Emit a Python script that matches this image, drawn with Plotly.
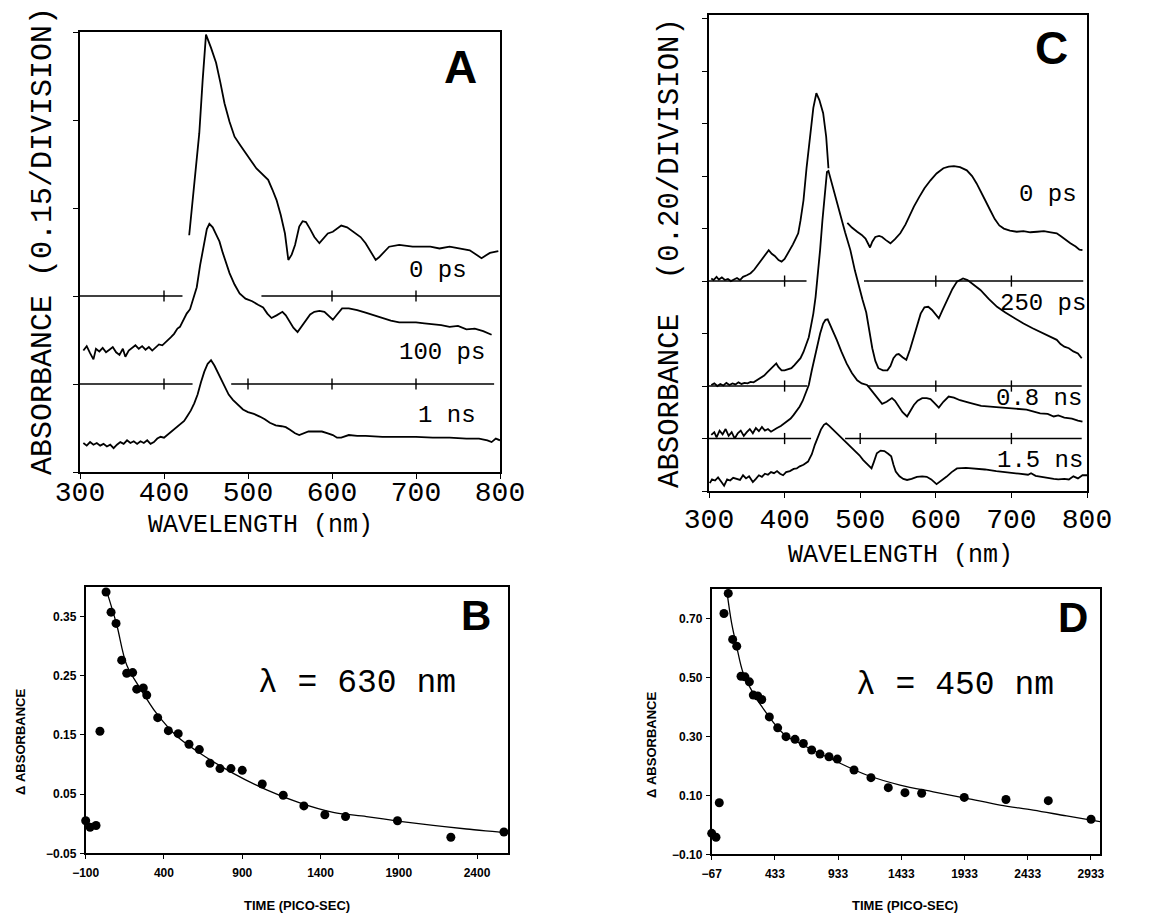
import plotly.graph_objects as go

W, H = 1171, 923
OFF = 8  # page body margin of the browser; positions below are in screenshot pixels

# ---------------- DATA ----------------
# Panel A spectra: (wavelength nm, absorbance in divisions of 0.15, offset-stacked)
A_0PS = [(430,2.69),(434,3.09),(438,3.48),(442,3.85),(446,4.45),(450,4.97),(456,4.82),(462,4.65),(467,4.43),
         (472,4.19),(478,3.98),(484,3.81),(491,3.71),(498,3.62),(504,3.53),(510,3.45),(517,3.38),(524,3.32),
         (529,3.21),(534,3.09),(539,2.92),(544,2.71),(548,2.41),(552,2.47),(556,2.58),(561,2.79),(565,2.85),
         (569,2.84),(574,2.76),(579,2.67),(585,2.60),(590,2.65),(595,2.71),(601,2.73),(606,2.76),(611,2.80),
         (618,2.78),(625,2.73),(634,2.67),(640,2.60),(645,2.52),(652,2.41),(656,2.44),(668,2.56),(680,2.58),
         (696,2.56),(717,2.56),(728,2.54),(740,2.56),(752,2.54),(764,2.52),(778,2.43),(788,2.49),(798,2.51)]
A_100PS = [(304,1.38),(308,1.43),(312,1.35),(316,1.28),(319,1.40),(323,1.37),(327,1.41),(331,1.36),(335,1.39),
           (339,1.42),(343,1.36),(347,1.33),(351,1.40),(354,1.31),(358,1.38),(362,1.41),(366,1.44),(370,1.40),
           (374,1.43),(378,1.39),(382,1.42),(386,1.38),(390,1.42),(394,1.45),(398,1.44),(403,1.48),(408,1.53),
           (412,1.57),(416,1.63),(419,1.65),(423,1.72),(427,1.80),(431,1.85),(435,1.97),(439,2.10),(443,2.35),
           (447,2.58),(451,2.76),(454,2.82),(458,2.78),(462,2.70),(466,2.62),(470,2.49),(474,2.37),(478,2.26),
           (484,2.13),(490,2.03),(497,1.97),(505,1.94),(512,1.90),(518,1.87),(523,1.80),(528,1.75),(534,1.78),
           (541,1.82),(545,1.78),(549,1.72),(554,1.64),(559,1.59),(564,1.66),(569,1.73),(574,1.79),(579,1.82),
           (585,1.83),(591,1.82),(596,1.77),(601,1.73),(606,1.79),(612,1.86),(620,1.86),(630,1.84),(640,1.81),
           (650,1.78),(660,1.75),(670,1.72),(680,1.70),(690,1.70),(700,1.70),(710,1.69),(720,1.68),(730,1.67),
           (740,1.65),(750,1.66),(760,1.62),(770,1.63),(780,1.60),(790,1.56)]
A_1NS = [(304,0.33),(308,0.30),(312,0.34),(316,0.31),(320,0.33),(324,0.30),(328,0.32),(332,0.29),(336,0.31),
         (340,0.27),(344,0.31),(348,0.34),(352,0.32),(356,0.36),(360,0.33),(364,0.35),(368,0.32),(372,0.35),
         (376,0.33),(380,0.36),(384,0.32),(388,0.34),(392,0.38),(396,0.40),(400,0.39),(404,0.42),(408,0.45),
         (412,0.48),(416,0.52),(420,0.55),(424,0.58),(428,0.64),(432,0.70),(436,0.78),(440,0.88),(444,1.02),
         (448,1.14),(452,1.23),(456,1.27),(460,1.21),(464,1.13),(468,1.05),(472,0.97),(477,0.88),(482,0.82),
         (488,0.76),(494,0.71),(500,0.68),(507,0.66),(514,0.63),(520,0.60),(526,0.56),(533,0.53),(540,0.52),
         (545,0.51),(550,0.48),(556,0.44),(561,0.42),(566,0.44),(572,0.46),(580,0.46),(588,0.46),(595,0.44),
         (601,0.42),(606,0.39),(611,0.39),(620,0.42),(630,0.41),(640,0.41),(660,0.40),(680,0.40),(700,0.40),
         (720,0.39),(740,0.39),(760,0.38),(775,0.38),(785,0.36),(790,0.34),(795,0.38),(800,0.36)]

# Panel C spectra (divisions of 0.20); None = gap in the trace
C_0PS = [(303,4.05),(306,4.02),(310,4.08),(313,4.03),(317,4.07),(321,4.02),(325,4.04),(329,4.00),(333,4.03),
         (337,4.06),(341,4.02),(345,4.08),(350,4.11),(355,4.15),(360,4.22),(365,4.32),(370,4.42),(375,4.52),
         (379,4.59),(383,4.52),(387,4.48),(392,4.40),(396,4.37),(400,4.42),(404,4.52),(407,4.59),(411,4.70),
         (415,4.82),(418,4.91),(421,5.15),(425,5.54),(429,6.15),(434,6.81),(438,7.30),(442,7.58),(446,7.45),
         (451,7.20),(455,6.75),(458,6.15), None,
         (483,5.11),(489,5.02),(496,4.94),(502,4.88),(507,4.81),(510,4.72),(513,4.64),(516,4.75),(520,4.84),
         (525,4.86),(529,4.84),(534,4.78),(540,4.72),(546,4.80),(553,4.91),(560,5.08),(566,5.28),(571,5.42),
         (578,5.60),(585,5.77),(593,5.92),(601,6.05),(610,6.15),(617,6.18),(624,6.19),(632,6.17),(641,6.11),
         (648,6.00),(654,5.86),(659,5.73),(665,5.55),(672,5.35),(678,5.18),(684,5.06),(690,5.00),(698,4.96),
         (707,4.94),(716,4.95),(725,4.93),(734,4.94),(743,4.95),(752,4.93),(760,4.91),(766,4.85),(772,4.78),
         (778,4.72),(785,4.66),(790,4.60),(794,4.59)]
C_250PS = [(303,2.02),(307,2.05),(311,2.00),(315,2.04),(319,2.01),(323,2.06),(327,2.02),(331,2.05),(335,2.03),
           (339,2.07),(343,2.04),(347,2.06),(351,2.05),(355,2.08),(359,2.07),(363,2.11),(368,2.15),(373,2.20),
           (377,2.26),(381,2.32),(385,2.38),(389,2.43),(392,2.36),(396,2.30),(400,2.30),(405,2.32),(409,2.34),
           (413,2.40),(417,2.46),(421,2.53),(425,2.65),(429,2.80),(432,2.93),(435,3.15),(438,3.38),(441,3.70),
           (444,4.10),(447,4.60),(450,5.15),(453,5.65),(456,6.08),(458,6.10),(461,5.95),(465,5.75),(469,5.54),
           (474,5.25),(480,4.93),(487,4.59),(493,4.20),(498,3.90),(503,3.65),(508,3.40),(512,3.05),(516,2.72),
           (520,2.48),(524,2.34),(530,2.30),(536,2.30),(540,2.38),(544,2.53),(548,2.60),(551,2.61),(556,2.55),
           (561,2.50),(566,2.70),(571,2.94),(575,3.18),(580,3.38),(585,3.50),(590,3.51),(595,3.45),(600,3.36),
           (604,3.29),(609,3.45),(615,3.64),(622,3.85),(628,3.99),(636,4.05),(642,4.02),(650,3.93),(659,3.83),
           (670,3.66),(681,3.51),(692,3.40),(704,3.29),(716,3.19),(728,3.10),(740,3.02),(752,2.94),(760,2.88),
           (765,2.80),(770,2.75),(776,2.72),(782,2.66),(788,2.62),(793,2.53)]
C_08NS = [(303,1.07),(307,1.12),(310,1.02),(314,1.15),(318,1.08),(322,1.18),(326,1.05),(330,1.12),(334,1.00),
          (338,1.10),(342,1.15),(346,1.05),(350,1.12),(354,1.18),(358,1.10),(362,1.20),(366,1.14),(370,1.22),
          (374,1.15),(378,1.18),(382,1.13),(385,1.16),(390,1.20),(395,1.24),(400,1.29),(404,1.33),(408,1.38),
          (412,1.45),(416,1.52),(420,1.61),(424,1.72),(428,1.86),(432,2.02),(436,2.30),(440,2.58),(443,2.75),
          (447,3.00),(451,3.19),(454,3.26),(457,3.27),(460,3.18),(464,3.05),(469,2.88),(475,2.66),(482,2.43),
          (489,2.25),(496,2.11),(502,2.05),(509,2.02),(513,1.95),(518,1.86),(523,1.76),(529,1.66),(535,1.70),
          (542,1.77),(546,1.72),(551,1.61),(556,1.50),(562,1.42),(566,1.52),(571,1.64),(576,1.72),(582,1.77),
          (588,1.77),(593,1.75),(598,1.68),(604,1.59),(610,1.70),(617,1.80),(624,1.78),(632,1.73),(645,1.68),
          (660,1.62),(680,1.60),(700,1.58),(720,1.55),(738,1.48),(748,1.47),(756,1.42),(762,1.44),(770,1.40),
          (780,1.38),(788,1.34),(794,1.32)]
C_15NS = [(301,0.15),(304,0.22),(308,0.20),(312,0.26),(316,0.18),(320,0.10),(324,0.22),(328,0.20),(332,0.25),
          (336,0.23),(341,0.21),(345,0.30),(349,0.24),(353,0.28),(358,0.17),(362,0.23),(366,0.30),(370,0.27),
          (374,0.33),(378,0.31),(382,0.36),(386,0.34),(390,0.38),(394,0.33),(398,0.30),(402,0.36),(407,0.38),
          (412,0.42),(416,0.43),(420,0.47),(425,0.50),(431,0.56),(436,0.70),(440,0.88),(444,1.04),(448,1.17),
          (452,1.26),(455,1.29),(459,1.24),(464,1.17),(469,1.10),(475,1.01),(481,0.93),(487,0.84),(493,0.76),
          (499,0.68),(504,0.59),(510,0.50),(515,0.43),(518,0.55),(522,0.72),(527,0.77),(532,0.76),(537,0.71),
          (541,0.66),(544,0.50),(547,0.37),(552,0.28),(557,0.23),(562,0.21),(568,0.23),(575,0.27),(582,0.28),
          (588,0.27),(594,0.22),(601,0.13),(607,0.19),(614,0.27),(621,0.36),(628,0.43),(640,0.44),(650,0.43),
          (665,0.41),(680,0.38),(694,0.35),(710,0.33),(722,0.31),(726,0.34),(732,0.29),(738,0.27),(748,0.25),
          (756,0.23),(762,0.22),(770,0.23),(776,0.22),(782,0.28),(788,0.24),(794,0.30),(800,0.30)]

# Zero lines of the offset spectra: (level, segments, tick positions)
BASE_A = [(2, [(300, 422), (516, 800)], [400, 600, 700]),
          (1, [(300, 434), (480, 793)], [400, 500, 600, 700])]
BASE_C = [(4, [(300, 429), (505, 795)], [400, 600, 700]),
          (2, [(300, 430), (510, 793)], [400, 600, 700]),
          (1, [(300, 435), (480, 793)], [400, 500, 600, 700])]

# Panel B kinetics at 630 nm
B_T = [-100, -72, -34, -9, 30, 62, 94, 130, 162, 200, 226, 268, 290, 360, 428, 491, 560, 626, 694, 758,
       828, 900, 1028, 1162, 1294, 1428, 1560, 1892, 2233, 2572]
B_A = [0.005, -0.006, -0.003, 0.156, 0.391, 0.357, 0.338, 0.276, 0.254, 0.255, 0.227, 0.229, 0.217, 0.179,
       0.157, 0.152, 0.134, 0.125, 0.102, 0.093, 0.093, 0.090, 0.067, 0.048, 0.030, 0.015, 0.012, 0.005,
       -0.023, -0.014]
B_FIT_T = [30, 97, 162, 247, 353, 481, 630, 843, 1056, 1268, 1481, 1694, 1907, 2120, 2333, 2572, 2600]
B_FIT_A = [0.396, 0.337, 0.268, 0.229, 0.186, 0.148, 0.119, 0.085, 0.057, 0.035, 0.019, 0.012, 0.004,
           -0.003, -0.009, -0.015, -0.016]

# Panel D kinetics at 450 nm
D_T = [-67, -33, -7, 30, 64, 99, 131, 165, 196, 231, 262, 297, 329, 389, 455, 521, 592, 658, 724, 790,
       861, 927, 1059, 1193, 1330, 1462, 1594, 1931, 2261, 2596, 2934]
D_A = [-0.029, -0.042, 0.075, 0.717, 0.785, 0.629, 0.606, 0.504, 0.502, 0.485, 0.440, 0.437, 0.425, 0.366,
       0.329, 0.299, 0.290, 0.276, 0.254, 0.240, 0.231, 0.223, 0.186, 0.160, 0.126, 0.109, 0.107, 0.093,
       0.086, 0.082, 0.019]
D_FIT_T = [52, 91, 131, 183, 262, 368, 499, 632, 895, 1159, 1423, 1686, 1950, 2214, 2477, 2741, 3005]
D_FIT_A = [0.796, 0.683, 0.604, 0.514, 0.446, 0.378, 0.310, 0.276, 0.220, 0.169, 0.135, 0.112, 0.090,
           0.067, 0.050, 0.030, 0.011]

WL_TICKS = [300, 400, 500, 600, 700, 800]
B_TICKS = [-100, 400, 900, 1400, 1900, 2400]
B_YTICKS = [-0.05, 0.05, 0.15, 0.25, 0.35]
D_TICKS = [-67, 433, 933, 1433, 1933, 2433, 2933]
D_YTICKS = [-0.10, 0.10, 0.30, 0.50, 0.70]

# ---------------- FIGURE ----------------
MONO = "Liberation Mono, Courier New, monospace"
SANS = "Liberation Sans, Arial, sans-serif"
LW = 1.8

fig = go.Figure()


def unzip(pairs):
    xs, ys = [], []
    for p in pairs:
        if p is None:
            xs.append(None); ys.append(None)
        else:
            xs.append(p[0]); ys.append(p[1])
    return xs, ys


def spectrum(pairs, xa, ya):
    xs, ys = unzip(pairs)
    fig.add_trace(go.Scatter(x=xs, y=ys, mode="lines", xaxis=xa, yaxis=ya,
                             line=dict(color="black", width=LW), showlegend=False,
                             connectgaps=False, hoverinfo="skip"))


def baselines(spec, xa, ya):
    for level, segs, ticks in spec:
        xs, ys = [], []
        for a, b in segs:
            xs += [a, b, None]; ys += [level, level, None]
        fig.add_trace(go.Scatter(x=xs, y=ys, mode="lines", xaxis=xa, yaxis=ya,
                                 line=dict(color="black", width=1.5), showlegend=False,
                                 hoverinfo="skip"))
        fig.add_trace(go.Scatter(x=ticks, y=[level] * len(ticks), mode="markers", xaxis=xa, yaxis=ya,
                                 marker=dict(symbol="line-ns", size=8, line=dict(color="black", width=1.4)),
                                 showlegend=False, hoverinfo="skip"))


for s in (A_0PS, A_100PS, A_1NS):
    spectrum(s, "x", "y")
baselines(BASE_A, "x", "y")
for s in (C_0PS, C_250PS, C_08NS, C_15NS):
    spectrum(s, "x2", "y2")
baselines(BASE_C, "x2", "y2")

for t, a, ft, fa, xa, ya in ((B_T, B_A, B_FIT_T, B_FIT_A, "x3", "y3"),
                             (D_T, D_A, D_FIT_T, D_FIT_A, "x4", "y4")):
    fig.add_trace(go.Scatter(x=ft, y=fa, mode="lines", line=dict(color="black", width=1.3, shape="spline"),
                             xaxis=xa, yaxis=ya, showlegend=False, hoverinfo="skip"))
    fig.add_trace(go.Scatter(x=t, y=a, mode="markers", marker=dict(color="black", size=9),
                             xaxis=xa, yaxis=ya, showlegend=False, cliponaxis=False, hoverinfo="skip"))


def xd(a, b):
    return [(a - OFF) / W, (b - OFF) / W]


def yd(top, bot):
    return [1 - (bot - OFF) / H, 1 - (top - OFF) / H]


common = dict(showgrid=False, zeroline=False, showline=True, linecolor="black", linewidth=LW,
              mirror=True, ticks="outside", tickcolor="black", tickwidth=1.4, automargin=False)
small_font = dict(family=SANS, size=12, color="black", weight="bold")

fig.update_layout(
    width=W, height=H, margin=dict(l=0, r=0, t=0, b=0, pad=0, autoexpand=False),
    paper_bgcolor="white", plot_bgcolor="white",
    xaxis=dict(domain=xd(80, 500), anchor="y", range=[300, 800], tickvals=WL_TICKS, ticklen=5,
               tickfont=dict(family=MONO, size=28, color="black"), ticklabelstandoff=-12, **common),
    yaxis=dict(domain=yd(32, 472), anchor="x", range=[0, 5], tickvals=[0, 1, 2, 3, 4, 5], ticklen=5,
               showticklabels=False, **common),
    xaxis2=dict(domain=xd(709, 1087), anchor="y2", range=[300, 800], tickvals=WL_TICKS, ticklen=5,
                tickfont=dict(family=MONO, size=28, color="black"), ticklabelstandoff=-4, **common),
    yaxis2=dict(domain=yd(15, 491), anchor="x2", range=[0, 9.07], tickvals=list(range(10)), ticklen=5,
                showticklabels=False, **common),
    xaxis3=dict(domain=xd(85.7, 508.3), anchor="y3", range=[-100, 2600], tickvals=B_TICKS,
                ticktext=["\u2212100"] + [str(v) for v in B_TICKS[1:]], ticklen=4,
                tickfont=small_font, ticklabelstandoff=3, **common),
    yaxis3=dict(domain=yd(586.7, 853.3), anchor="x3", range=[-0.05, 0.40], tickvals=B_YTICKS,
                ticktext=["\u22120.05", "0.05", "0.15", "0.25", "0.35"], ticklen=4,
                tickfont=small_font, ticklabelstandoff=1, **common),
    xaxis4=dict(domain=xd(711.7, 1100), anchor="y4", range=[-67, 3005], tickvals=D_TICKS,
                ticktext=["\u221267"] + [str(v) for v in D_TICKS[1:]], ticklen=4,
                tickfont=small_font, ticklabelstandoff=3, **common),
    yaxis4=dict(domain=yd(589, 854.3), anchor="x4", range=[-0.10, 0.80], tickvals=D_YTICKS,
                ticktext=["\u22120.10", "0.10", "0.30", "0.50", "0.70"], ticklen=4,
                tickfont=small_font, ticklabelstandoff=1, **common),
)


def note(text, px, py, size, family=MONO, angle=0, bold=False):
    t = f"<b>{text}</b>" if bold else text
    fig.add_annotation(text=t, x=(px - OFF) / W, y=1 - (py - OFF) / H, xref="paper", yref="paper",
                       showarrow=False, xanchor="center", yanchor="middle", textangle=angle,
                       font=dict(family=family, size=size, color="black"))


# axis titles
note("ABSORBANCE (0.15/DIVISION)", 43, 241, 30, angle=-90)
note("WAVELENGTH (nm)", 260, 525, 25)
note("ABSORBANCE  (0.20/DIVISION)", 670, 253, 29, angle=-90)
note("WAVELENGTH (nm)", 900, 555, 25)
note("\u0394 ABSORBANCE", 20, 742, 13, family=SANS, angle=-90, bold=True)
note("TIME (PICO-SEC)", 297, 905, 13, family=SANS, bold=True)
note("\u0394 ABSORBANCE", 651, 745, 13, family=SANS, angle=-90, bold=True)
note("TIME (PICO-SEC)", 905, 905, 13, family=SANS, bold=True)

# panel letters
note("A", 460, 67, 46, family=SANS, bold=True)
note("C", 1051, 48, 46, family=SANS, bold=True)
note("B", 476, 615, 42, family=SANS, bold=True)
note("D", 1073, 617, 42, family=SANS, bold=True)

# spectrum labels
note("0 ps", 438, 270, 24)
note("100 ps", 442, 352, 24)
note("1 ns", 447, 415, 24)
note("0 ps", 1048, 194, 24)
note("250 ps", 1043, 303, 24)
note("0.8 ns", 1039, 398, 24)
note("1.5 ns", 1040, 460, 24)

# wavelength labels in kinetics panels
note("\u03bb = 630 nm", 357, 683, 33)
note("\u03bb = 450 nm", 955, 685, 33)

fig.write_html("out.html")
